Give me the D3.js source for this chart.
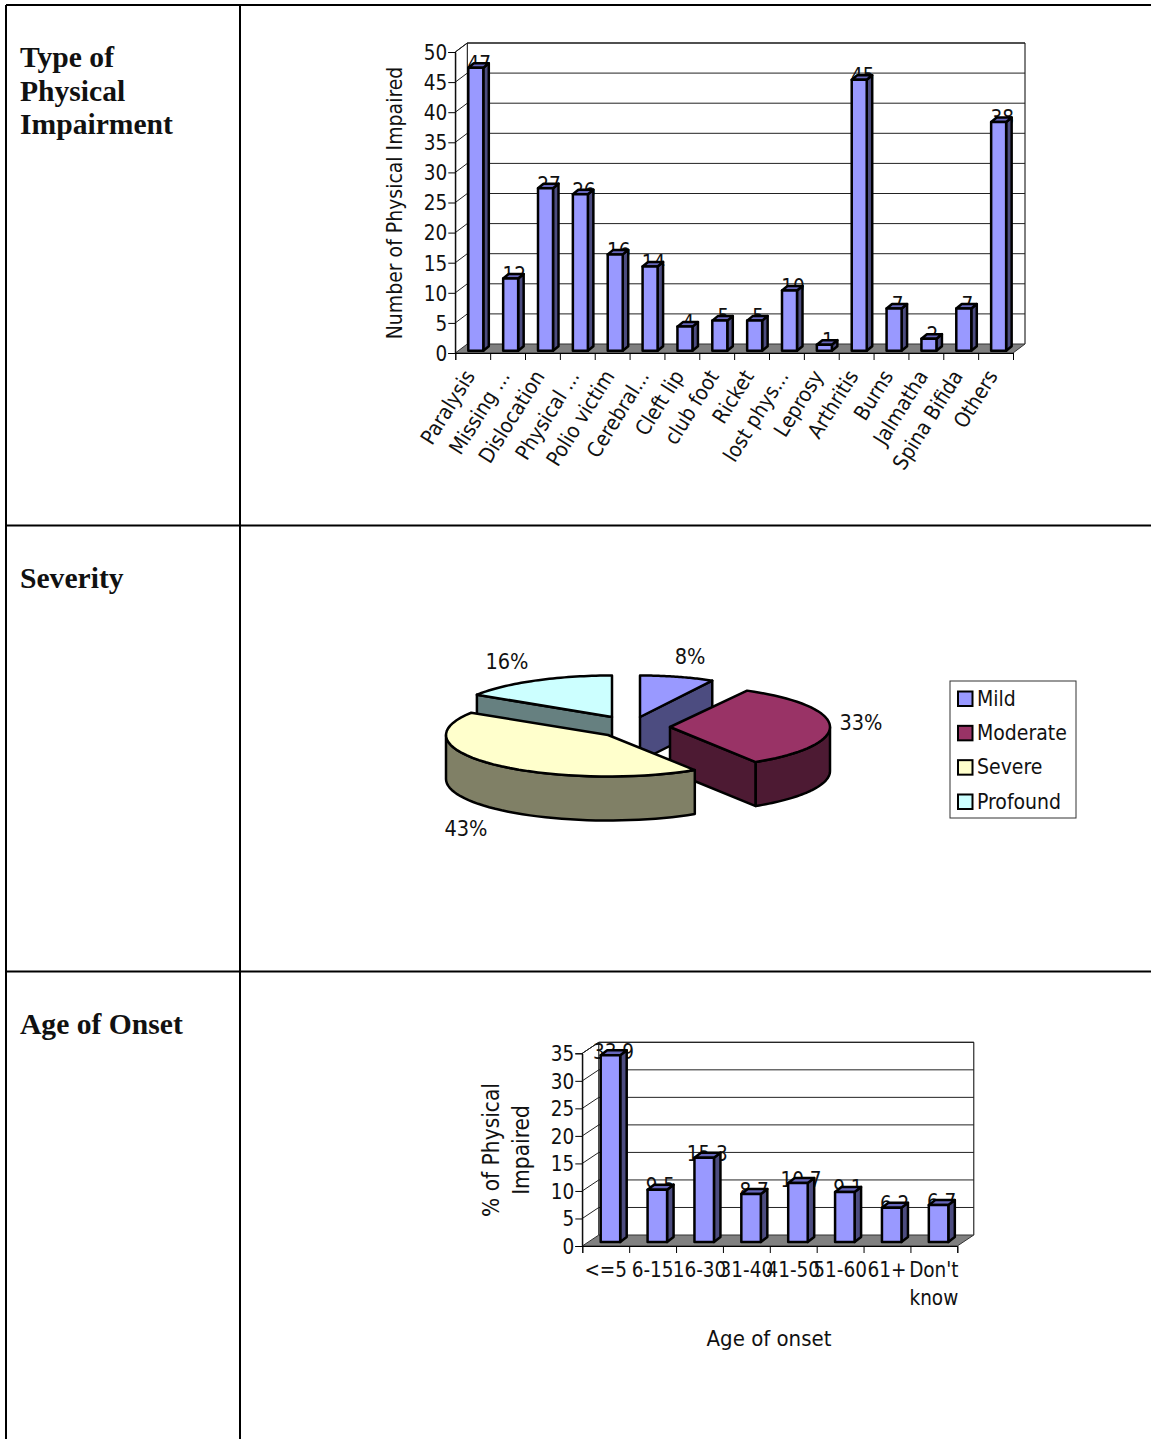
<!DOCTYPE html>
<html><head><meta charset="utf-8">
<style>
html,body{margin:0;padding:0;background:#fff}
svg{display:block}
text{font-family:"DejaVu Sans Condensed","DejaVu Sans",sans-serif;fill:#111;font-stretch:condensed}
.head{font-family:"Liberation Serif",serif;font-weight:bold;font-size:29.6px;font-stretch:normal}
</style>
<script src="https://cdn.jsdelivr.net/npm/d3@7/dist/d3.min.js"></script>
</head><body><div id="c"></div>
<script>
const typeCategories=["Paralysis","Missing ...","Dislocation","Physical ...","Polio victim","Cerebral...","Cleft lip","club foot","Ricket","lost phys...","Leprosy","Arthritis","Burns","Jalmatha","Spina Bifida","Others"];
const typeValues=[47,12,27,26,16,14,4,5,5,10,1,45,7,2,7,38];
const typeTicks=[0,5,10,15,20,25,30,35,40,45,50];
const severityCategories=["Mild","Moderate","Severe","Profound"];
const severityValues=[8,33,43,16];
const ageCategories=[["<=5"],["6-15"],["16-30"],["31-40"],["41-50"],["51-60"],["61+"],["Don't","know"]];
const ageValues=[33.9,9.5,15.3,8.7,10.7,9.1,6.2,6.7];
const ageTicks=[0,5,10,15,20,25,30,35];

const svg=d3.select("#c").append("svg").attr("width",1151).attr("height",1439);
const BLUE="#9999FF",BSIDE="#4C4C80",BTOP="#6666BB";

// table rules
const rules=[[6,5,1151,5],[6,5,6,1439],[240,5,240,1439],[6,525.5,1151,525.5],[6,971.5,1151,971.5]];
svg.append("g").selectAll("line").data(rules).join("line")
 .attr("x1",d=>d[0]).attr("y1",d=>d[1]).attr("x2",d=>d[2]).attr("y2",d=>d[3])
 .attr("stroke","#000").attr("stroke-width",2);
const heads=[["Type of",20,67],["Physical",20,101],["Impairment",20,134],["Severity",20,588],["Age of Onset",20,1034]];
svg.append("g").selectAll("text").data(heads).join("text").attr("class","head")
 .attr("x",d=>d[1]).attr("y",d=>d[2]).text(d=>d[0]);

function bars3d(o){
 const g=svg.append("g");
 const n=o.values.length;
 const xi=d3.scaleLinear().domain([0,n]).range([o.x0,o.x1]);
 const y=d3.scaleLinear().domain([0,o.max]).range([o.y0,o.yTop]);
 const yh=v=>y(v)-o.y0;
 const dx=o.dx,dy=o.dy;
 g.append("path").attr("fill","none").attr("stroke","#000").attr("stroke-width",1)
  .attr("d",`M${o.x0},${o.y0}V${y(o.max)}L${o.x0+dx},${y(o.max)-dy}H${o.x1+dx}V${o.y0-dy}M${o.x0+dx},${y(o.max)-dy}V${o.y0-dy}`);
 const gt=o.ticks.slice(1);
 g.append("g").selectAll("path").data(gt).join("path")
  .attr("fill","none").attr("stroke","#222").attr("stroke-width",1)
  .attr("d",v=>`M${o.x0},${y(v)}L${o.x0+dx},${y(v)-dy}H${o.x1+dx}`);
 g.append("path").attr("fill","#808080").attr("stroke","#333").attr("stroke-width",1)
  .attr("d",`M${o.x0},${o.y0}L${o.x0+dx},${o.y0-dy}H${o.x1+dx}L${o.x1},${o.y0}Z`);
 const ay=g.append("g").attr("transform",`translate(${o.x0},0)`).call(d3.axisLeft(y).tickValues(o.ticks).tickSize(o.tick).tickFormat(d3.format("d")));
 ay.select(".domain").attr("stroke","#000");
 ay.selectAll("text").attr("font-size",o.fs).attr("x",-o.tick-1).attr("dy","0.36em").style("font-family",'"DejaVu Sans Condensed"').attr("fill","#111");
 const ax=g.append("g").attr("transform",`translate(0,${o.y0})`).call(d3.axisBottom(xi).tickValues(d3.range(n+1)).tickSize(o.tick).tickFormat(""));
 ax.select(".domain").attr("stroke","#000");
 const bw=o.barW,bo=o.barOff,ddx=o.bdx,ddy=o.bdy,base=o.y0-o.baseLift;
 const barX=i=>xi(i)+bo;
 // value labels: the bars cover their lower half
 g.append("g").selectAll("text").data(o.values).join("text")
  .attr("x",(d,i)=>barX(i)+bw/2+o.lblDx).attr("y",d=>base+yh(d)+o.lblDy)
  .attr("text-anchor","middle").attr("font-size",o.fs).text(d=>d);
 const b=g.append("g").selectAll("g").data(o.values).join("g");
 const st=s=>s.attr("stroke","#000").attr("stroke-width",2.5).attr("stroke-linejoin","round");
 b.append("path").attr("fill",BSIDE).call(st)
  .attr("d",(d,i)=>{const x=barX(i)+bw,t=base+yh(d);return `M${x},${t}l${ddx},${-ddy}V${base-ddy}L${x},${base}Z`});
 b.append("path").attr("fill",BTOP).call(st)
  .attr("d",(d,i)=>{const x=barX(i),t=base+yh(d);return `M${x},${t}l${ddx},${-ddy}h${bw}l${-ddx},${ddy}Z`});
 b.append("rect").attr("fill",BLUE).call(st)
  .attr("x",(d,i)=>barX(i)).attr("y",d=>base+yh(d)).attr("width",bw).attr("height",d=>-yh(d));
 return {g,xi};
}

// Chart 1
const c1=bars3d({values:typeValues,ticks:typeTicks,max:50,x0:455.3,x1:1013,y0:353,yTop:52,dx:12,dy:9,tick:7,fs:20.5,
 barW:15,barOff:13,bdx:5.5,bdy:4.5,baseLift:2.3,lblDx:3.5,lblDy:3.5});
c1.g.append("g").selectAll("text").data(typeCategories).join("text")
 .attr("font-size",21).attr("text-anchor","end")
 .attr("transform",(d,i)=>`translate(${c1.xi(i+0.5)+3},${376}) rotate(-58)`)
 .text(d=>d);
c1.g.append("text").attr("font-size",21).attr("text-anchor","middle")
 .attr("transform","translate(402,203) rotate(-90)").text("Number of Physical Impaired");

// Chart 3
const c3=bars3d({values:ageValues,ticks:ageTicks,max:35,x0:582.3,x1:957.3,y0:1246,yTop:1053.3,dx:16.5,dy:11,tick:7,fs:20.5,
 barW:19.5,barOff:18.4,bdx:6.5,bdy:5,baseLift:4,lblDx:3,lblDy:3.5});
c3.g.append("g").selectAll("text").data(ageCategories).join("text")
 .attr("font-size",20.5).attr("text-anchor","middle")
 .attr("transform",(d,i)=>`translate(${c3.xi(i+0.5)},1277)`)
 .selectAll("tspan").data(d=>d).join("tspan").attr("x",0).attr("y",(d,i)=>i*28).text(d=>d);
c3.g.append("text").attr("font-size",22).attr("text-anchor","middle").attr("x",769).attr("y",1346).text("Age of onset");
const yl=c3.g.append("text").attr("font-size",22.5).attr("text-anchor","middle").attr("transform","translate(499,1150) rotate(-90)");
yl.append("tspan").attr("x",0).attr("y",0).text("% of Physical");
yl.append("tspan").attr("x",0).attr("y",30).text("Impaired");

// Pie
const pieColors={Mild:[BLUE,BSIDE],Moderate:["#993366","#4D1A33"],Severe:["#FFFFCC","#808066"],Profound:["#CCFFFF","#668080"]};
const pieCentres={Mild:[640,717],Moderate:[670,727],Severe:[608,735],Profound:[612,717]};
const pieRx={Mild:150,Moderate:160,Severe:162,Profound:160};
const RY=41.5,DEPTH=44;
const arcs=d3.pie().sort(null).startAngle(0).endAngle(2*Math.PI)(severityValues);
const pt=(c,rx,a,off=0)=>[c[0]+rx*Math.sin(a),c[1]-RY*Math.cos(a)+off];
const samples=(a0,a1)=>d3.range(0,41).map(i=>a0+(a1-a0)*i/40);
const pg=svg.append("g").attr("stroke","#000").attr("stroke-width",2.5).attr("stroke-linejoin","round");
const line=d3.line();
[3,0,1,2].forEach(i=>{
 const a=arcs[i],name=severityCategories[i],c=pieCentres[name],rx=pieRx[name],[top,side]=pieColors[name];
 const s=a.startAngle,e=a.endAngle;
 const r0=Math.max(s,Math.PI/2),r1=Math.min(e,Math.PI*1.5);
 const cut=ang=>line([c,pt(c,rx,ang),pt(c,rx,ang,DEPTH),[c[0],c[1]+DEPTH]])+"Z";
 if(name==="Mild"||name==="Moderate") pg.append("path").attr("fill",side).attr("d",cut(e));
 if(name==="Profound") pg.append("path").attr("fill",side).attr("d",cut(s));
 if(r1>r0){
  const pts=samples(r0,r1).map(t=>pt(c,rx,t)).concat(samples(r1,r0).map(t=>pt(c,rx,t,DEPTH)));
  pg.append("path").attr("fill",side).attr("d",line(pts)+"Z");
 }
 const facePts=[c].concat(samples(s,e).map(t=>pt(c,rx,t)));
 pg.append("path").attr("fill",top).attr("d",line(facePts)+"Z");
});
const pieLabelPos=[[690,664],[861,730],[466,836],[507,669]];
svg.append("g").selectAll("text").data(severityValues).join("text")
 .attr("x",(d,i)=>pieLabelPos[i][0]).attr("y",(d,i)=>pieLabelPos[i][1])
 .attr("text-anchor","middle").attr("font-size",21.5).text(d=>d+"%");

// Legend
const lg=svg.append("g");
lg.append("rect").attr("x",950).attr("y",681).attr("width",126).attr("height",137).attr("fill","#fff").attr("stroke","#333");
const ly=d3.scalePoint().domain(severityCategories).range([698.5,801.5]);
lg.selectAll("rect.k").data(severityCategories).join("rect").attr("class","k")
 .attr("x",958).attr("y",d=>ly(d)-7).attr("width",14.5).attr("height",14.5)
 .attr("fill",d=>pieColors[d][0]).attr("stroke","#000").attr("stroke-width",2);
lg.selectAll("text").data(severityCategories).join("text")
 .attr("x",977).attr("y",d=>ly(d)+7).attr("font-size",21).text(d=>d);
</script></body></html>
